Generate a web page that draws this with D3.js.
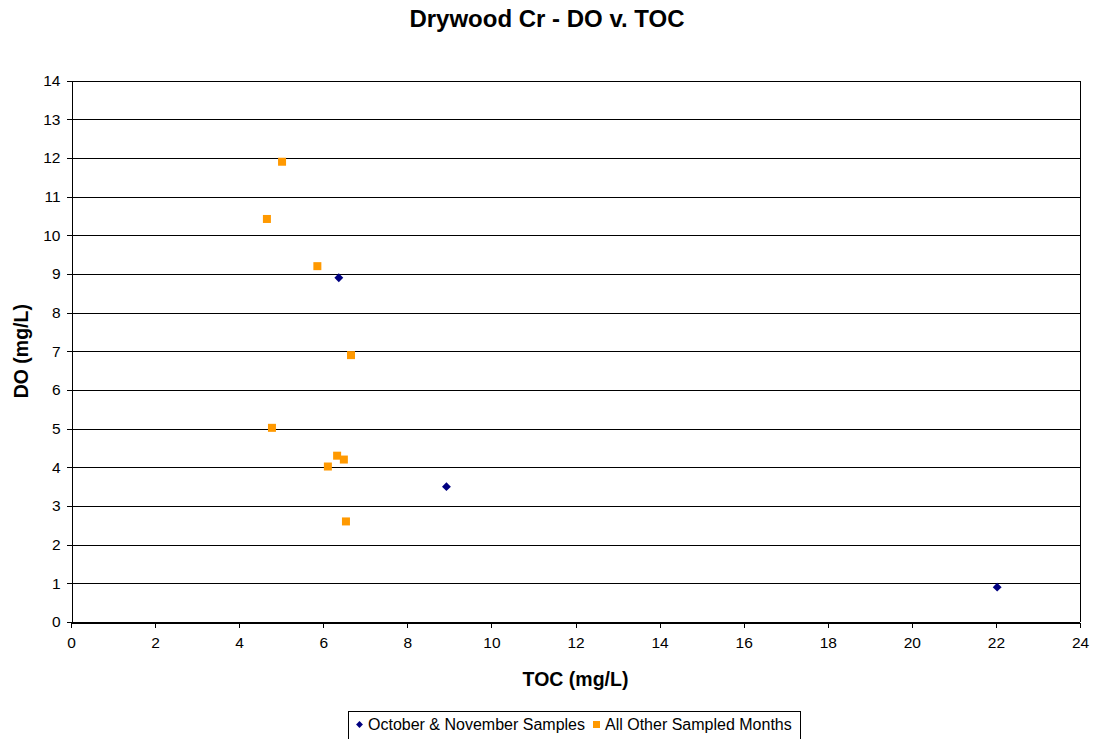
<!DOCTYPE html>
<meta charset="utf-8">
<style>
body { margin: 0; background: #fff; }
text { font-family: "Liberation Sans", Arial, sans-serif; fill: #000; }
.grid line { stroke: #000; stroke-width: 1; shape-rendering: crispEdges; }
.axis path, .axis line { stroke: #000; shape-rendering: crispEdges; }
.axis text { font-size: 15.5px; font-family: "Liberation Sans", Arial, sans-serif; }
</style>
<svg width="1093" height="739"></svg>
<script src="https://d3js.org/d3.v7.min.js"></script>
<script>

// series values (TOC mg/L, DO mg/L)
var octNovToc = [6.37, 8.93, 22.03];
var octNovDo  = [8.9, 3.5, 0.9];

var otherToc = [5.02, 4.66, 5.86, 6.66, 4.78, 6.33, 6.49, 6.11, 6.54];
var otherDo  = [11.9, 10.42, 9.2, 6.9, 5.02, 4.3, 4.2, 4.02, 2.6];

var seriesNames = ["October & November Samples", "All Other Sampled Months"];
var xTicks = d3.range(0, 25, 2);
var yTicks = d3.range(0, 15, 1);

var svg = d3.select("svg"),
    width = +svg.attr("width"),
    height = +svg.attr("height");

var margin = {left: 71, top: 80.5, right: 1080, bottom: 622};

var x = d3.scaleLinear().domain([0, 24]).range([margin.left, margin.right]);
var y = d3.scaleLinear().domain([0, 14]).range([margin.bottom, margin.top]);

// gridlines
svg.append("g")
    .attr("class", "grid")
  .selectAll("line")
  .data(yTicks)
  .enter().append("line")
    .attr("x1", x(0))
    .attr("x2", x(24))
    .attr("y1", function(d) { return Math.round(y(d)) + 0.5; })
    .attr("y2", function(d) { return Math.round(y(d)) + 0.5; });

// right border
svg.append("line")
    .attr("x1", Math.round(x(24)) + 0.5).attr("x2", Math.round(x(24)) + 0.5)
    .attr("y1", y(14)).attr("y2", y(0))
    .attr("stroke", "#000").attr("shape-rendering", "crispEdges");

svg.append("g")
    .attr("class", "axis")
    .attr("transform", "translate(0," + (Math.round(y(0)) + 0.5) + ")")
    .call(d3.axisBottom(x).tickValues(xTicks).tickSize(5).tickPadding(9).tickSizeOuter(0));

svg.append("g")
    .attr("class", "axis")
    .attr("transform", "translate(" + (Math.round(x(0)) + 0.5) + ",0)")
    .call(d3.axisLeft(y).tickValues(yTicks).tickSize(5).tickPadding(6).tickSizeOuter(0));

// points
var octNov = octNovToc.map(function(d, i) { return {x: d, y: octNovDo[i]}; });
var other = otherToc.map(function(d, i) { return {x: d, y: otherDo[i]}; });

svg.append("g").selectAll("rect")
  .data(other)
  .enter().append("rect")
    .attr("x", function(d) { return x(d.x) - 4; })
    .attr("y", function(d) { return y(d.y) - 4; })
    .attr("width", 8)
    .attr("height", 8)
    .attr("fill", "#FF9900");

var diamond = d3.symbol().type(d3.symbolDiamond2).size(50);
svg.append("g").selectAll("path")
  .data(octNov)
  .enter().append("path")
    .attr("d", diamond)
    .attr("transform", function(d) { return "translate(" + x(d.x) + "," + y(d.y) + ")"; })
    .attr("fill", "#000080");

// titles
svg.append("text")
    .attr("x", 547).attr("y", 27)
    .attr("text-anchor", "middle")
    .style("font-size", "24px").style("font-weight", "bold")
    .text("Drywood Cr - DO v. TOC");

svg.append("text")
    .attr("x", (x(0) + x(24)) / 2).attr("y", 686)
    .attr("text-anchor", "middle")
    .style("font-size", "19.5px").style("font-weight", "bold")
    .text("TOC (mg/L)");

svg.append("text")
    .attr("transform", "translate(28," + ((y(0) + y(14)) / 2) + ") rotate(-90)")
    .attr("text-anchor", "middle")
    .style("font-size", "19.5px").style("font-weight", "bold")
    .text("DO (mg/L)");

// legend
var legend = svg.append("g");
legend.append("rect")
    .attr("x", 348.5).attr("y", 711.5)
    .attr("width", 452).attr("height", 40)
    .attr("fill", "#fff").attr("stroke", "#000");

legend.append("path")
    .attr("d", d3.symbol().type(d3.symbolDiamond2).size(30))
    .attr("transform", "translate(359.5,724.5)")
    .attr("fill", "#000080");
legend.append("text")
    .attr("x", 368).attr("y", 730)
    .style("font-size", "16px")
    .text(seriesNames[0]);

legend.append("rect")
    .attr("x", 593).attr("y", 721).attr("width", 7).attr("height", 7)
    .attr("fill", "#FF9900");
legend.append("text")
    .attr("x", 605).attr("y", 730)
    .style("font-size", "16px")
    .text(seriesNames[1]);

</script>
